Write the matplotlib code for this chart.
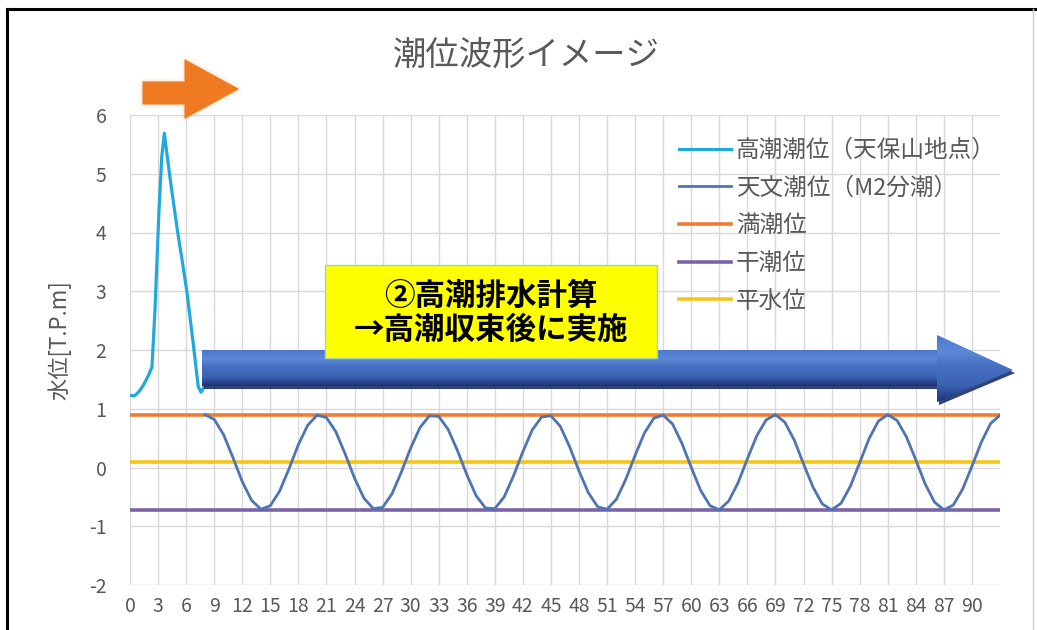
import matplotlib
matplotlib.use("Agg")
import matplotlib.pyplot as plt
import numpy as np
from matplotlib.patches import Polygon, Rectangle

plt.rcParams['font.family'] = ['Noto Sans CJK JP', 'DejaVu Sans']
plt.rcParams['axes.unicode_minus'] = False

# ---------------- data ----------------
title = "潮位波形イメージ"
ylabel = "水位[T.P.m]"
labels = ["高潮潮位（天保山地点）", "天文潮位（M2分潮）", "満潮位", "干潮位", "平水位"]

surge_x = [0, 0.5, 1, 1.5, 2, 2.35, 2.67, 3.1, 3.4, 3.67, 3.9, 4.27, 4.7, 5.1, 5.6, 6.1, 6.75, 7.3, 7.6, 8.0]
surge_y = [1.23, 1.22, 1.30, 1.42, 1.58, 1.71, 2.68, 4.38, 5.30, 5.69, 5.40, 4.94, 4.45, 4.00, 3.50, 2.97, 2.12, 1.37, 1.28, 1.40]

astro_x = list(range(8, 94))
astro_y = [0.90, 0.82, 0.56, 0.17, -0.24, -0.56, -0.71, -0.65, -0.40, -0.02,
           0.39, 0.72, 0.89, 0.85, 0.61, 0.23, -0.18, -0.52, -0.70, -0.68,
           -0.45, -0.08, 0.33, 0.68, 0.88, 0.87, 0.65, 0.29, -0.12, -0.48,
           -0.69, -0.70, -0.50, -0.14, 0.27, 0.64, 0.86, 0.88, 0.70, 0.35,
           -0.06, -0.43, -0.67, -0.71, -0.54, -0.20, 0.21, 0.59, 0.84, 0.89,
           0.74, 0.41, 0.00, -0.39, -0.65, -0.72, -0.57, -0.26, 0.15, 0.54,
           0.81, 0.90, 0.77, 0.47, 0.06, -0.33, -0.62, -0.72, -0.61, -0.32,
           0.08, 0.49, 0.79, 0.90, 0.80, 0.52, 0.13, -0.28, -0.59, -0.72,
           -0.64, -0.37, 0.02, 0.43, 0.75, 0.89]

level_x = [0, 93]
high_water = [0.90, 0.90]
low_water = [-0.72, -0.72]
mean_water = [0.10, 0.10]

xticks = list(range(0, 91, 3))
xtick_labels = [str(v) for v in xticks]
yticks = list(range(-2, 7))

box_text = "②高潮排水計算\n→高潮収束後に実施"

colors = ["#21a9dd", "#4f74b3", "#ed7d31", "#7c62a8", "#f5c518"]

# ---------------- figure ----------------
W, H = 1037, 630
fig = plt.figure(figsize=(W / 100, H / 100), dpi=100)
fig.patch.set_facecolor("white")

def fx(px):
    return px / W

def fy(py):
    return 1 - py / H

ax = fig.add_axes([fx(130), fy(585), fx(1000) - fx(130), fy(115) - fy(585)])
ax.plot(surge_x, surge_y, color=colors[0], lw=2.3, label=labels[0], zorder=5, solid_joinstyle="round")
ax.plot(astro_x, astro_y, color=colors[1], lw=2.0, label=labels[1], zorder=4, solid_joinstyle="round")
ax.plot(level_x, high_water, color=colors[2], lw=2.6, label=labels[2], zorder=3)
ax.plot(level_x, low_water, color=colors[3], lw=2.6, label=labels[3], zorder=3)
ax.plot(level_x, mean_water, color=colors[4], lw=2.6, label=labels[4], zorder=3)

ax.set_xlim(0, 93)
ax.set_ylim(-2, 6)
ax.set_xticks(xticks)
ax.set_xticklabels(xtick_labels)
ax.set_yticks(yticks)
ax.grid(True, color="#d9d9d9", lw=1.0)
ax.set_axisbelow(True)
for s in ax.spines.values():
    s.set_visible(False)
ax.tick_params(axis="both", length=0, colors="#595959", labelsize=14)
ax.tick_params(axis="y", pad=17)
ax.tick_params(axis="x", pad=8)
ax.set_facecolor("white")

leg = ax.legend(loc="upper left", bbox_to_anchor=(fx(679), fy(139)), bbox_transform=fig.transFigure,
                frameon=False, fontsize=17, handlelength=2.2, handletextpad=0.2,
                labelspacing=0.62, borderpad=0, borderaxespad=0)
for t in leg.get_texts():
    t.set_color("#595959")

fig.text(fx(526), fy(55), title, ha="center", va="center", fontsize=24, color="#595959")
fig.text(fx(60), fy(340), ylabel, ha="center", va="center", rotation=90, fontsize=16, color="#595959")

# ---------------- overlay annotations (pixel coordinates) ----------------
ov = fig.add_axes([0, 0, 1, 1], zorder=10)
ov.set_xlim(0, W)
ov.set_ylim(H, 0)
ov.axis("off")
ov.patch.set_alpha(0)

# page border lines
ov.plot([7, 7], [9, H], color="black", lw=2.2)
ov.plot([7, W], [9, 9], color="black", lw=2.2)
ov.plot([1033, 1033], [9, H], color="#cccccc", lw=1.0)

# orange arrow with soft glow
orange_pts = [(143, 82), (185, 82), (185, 60), (238, 89), (185, 118), (185, 104), (143, 104)]
for k, a in [(6, 0.06), (4, 0.08), (2, 0.12)]:
    glow = Polygon(orange_pts, closed=True, facecolor="none", edgecolor="#f5b27a", lw=k, alpha=a, joinstyle="round")
    ov.add_patch(glow)
ov.add_patch(Polygon(orange_pts, closed=True, facecolor="#f07a22", edgecolor="#f07a22", lw=0.8, joinstyle="round"))

# blue arrow with gradient
blue_pts = [(202, 350), (937, 350), (937, 335), (1013, 370), (937, 402), (937, 386), (202, 386)]
shadow = Polygon([(x + 2, y + 3) for x, y in blue_pts], closed=True, facecolor="#1b2f66", edgecolor="none", alpha=0.9)
ov.add_patch(shadow)
poly = Polygon(blue_pts, closed=True, facecolor="none", edgecolor="none")
ov.add_patch(poly)
stops = np.array([[0.00, 0.30, 0.47, 0.80],
                  [0.25, 0.36, 0.54, 0.85],
                  [0.45, 0.28, 0.44, 0.76],
                  [0.75, 0.23, 0.38, 0.70],
                  [0.90, 0.16, 0.27, 0.55],
                  [1.00, 0.12, 0.20, 0.45]])
n = 200
t = np.linspace(0, 1, n)
grad = np.zeros((n, 1, 3))
for c in range(3):
    grad[:, 0, c] = np.interp(t, stops[:, 0], stops[:, c + 1])
img = ov.imshow(grad, extent=(202, 1013, 402, 335), origin="upper", aspect="auto", zorder=2,
                interpolation="bilinear")
img.set_clip_path(poly)
body = Polygon([(202, 350), (937, 350), (937, 386), (202, 386)], closed=True, facecolor="none", edgecolor="none")
ov.add_patch(body)
img2 = ov.imshow(grad, extent=(202, 937, 386, 350), origin="upper", aspect="auto", zorder=3,
                 interpolation="bilinear")
img2.set_clip_path(body)

# yellow text box
ov.add_patch(Rectangle((325, 265), 332, 93, facecolor="#ffff00", edgecolor="#9fd4c0", lw=1.0, zorder=5))
ov.text(491, 313, box_text, ha="center", va="center", fontsize=22, fontweight="bold",
        color="black", linespacing=1.1, zorder=6)

ov.set_xlim(0, W)
ov.set_ylim(H, 0)

fig.savefig("out.png", dpi=100, facecolor="white")
